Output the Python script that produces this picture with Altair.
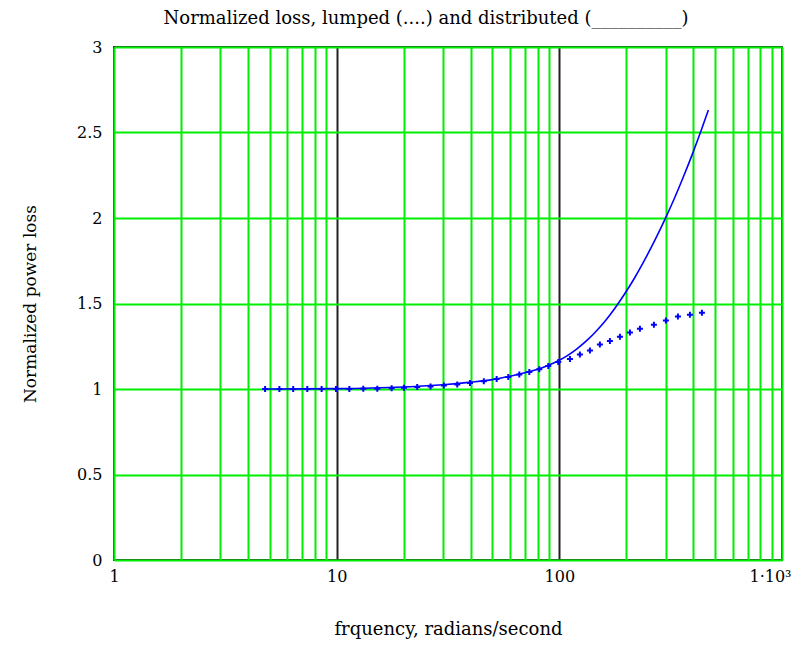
import altair as alt
import pandas as pd

# Lumped model (plotted as "+" markers)
lumped_freq = [4.77, 5.53, 6.38, 7.38, 8.56, 9.93, 11.4, 13.17, 15.22, 17.66, 20.05, 23.0,
               26.4, 30.3, 34.8, 39.7, 45.8, 52.3, 59.0, 66.1, 73.3, 81.3, 89.2, 98.9,
               111.6, 123.7, 137.2, 152.1, 168.7, 187.1, 207.5, 230.1, 265.9, 301.0,
               340.9, 385.9, 436.9]
lumped_loss = [1.0, 1.0, 1.0, 1.0, 1.0, 1.0, 1.0, 1.001, 1.002, 1.004, 1.008, 1.012,
               1.015, 1.02, 1.027, 1.035, 1.045, 1.058, 1.07, 1.085, 1.1, 1.115, 1.135, 1.158,
               1.176, 1.202, 1.225, 1.26, 1.281, 1.306, 1.33, 1.353, 1.376, 1.40,
               1.424, 1.434, 1.446]

# Distributed model (solid line)
dist_freq = [4.77, 10, 20, 30, 40, 50, 60, 70, 80, 90, 100, 110, 120, 133, 147, 162,
             178, 196, 216, 238, 269, 298, 327, 360, 397, 435, 467]
dist_loss = [1.0, 1.002, 1.012, 1.025, 1.04, 1.055, 1.075, 1.095, 1.115, 1.14, 1.168,
             1.200, 1.235, 1.284, 1.341, 1.404, 1.474, 1.554, 1.642, 1.739, 1.872, 1.992,
             2.108, 2.238, 2.378, 2.517, 2.631]

x_ticks = [1, 2, 3, 4, 5, 6, 7, 8, 9, 10, 20, 30, 40, 50, 60, 70, 80, 90,
           100, 200, 300, 400, 500, 600, 700, 800, 900, 1000]
y_ticks = [0, 0.5, 1, 1.5, 2, 2.5, 3]

lumped = pd.DataFrame({"freq": lumped_freq, "loss": lumped_loss})
dist = pd.DataFrame({"freq": dist_freq, "loss": dist_loss})

FONT = "DejaVu Serif"

x_enc = alt.X(
    "freq:Q",
    scale=alt.Scale(type="log", domain=[1, 1000], nice=False),
    axis=alt.Axis(
        values=x_ticks,
        title="frquency, radians/second",
        labelExpr="datum.value == 1 ? '1' : datum.value == 10 ? '10' : datum.value == 100 ? '100' : datum.value == 1000 ? '1·10³' : ''",
        labelOverlap=False,
        labelFlush=False,
        labelAlign={"condition": {"test": "datum.value == 1000", "value": "right"}, "value": "center"},
        labelOffset={"condition": {"test": "datum.value == 1000", "value": 9}, "value": 0},
        ticks=False,
        domain=False,
        grid=True,
        gridColor={"condition": {"test": "datum.value == 10 || datum.value == 100", "value": "#222222"},
                   "value": "#00ee00"},
        gridWidth=2,
        gridOpacity=1,
        labelPadding=8,
        titlePadding=36,
        titleFontSize=18,
    ),
)
y_enc = alt.Y(
    "loss:Q",
    scale=alt.Scale(domain=[0, 3], nice=False, zero=True),
    axis=alt.Axis(
        values=y_ticks,
        format="~g",
        title="Normalized power loss",
        ticks=False,
        domain=False,
        grid=True,
        gridColor="#00ee00",
        gridWidth=2,
        gridOpacity=1,
        labelPadding=12,
        titlePadding=37,
        labelFlush=False,
        titleFontSize=17,
    ),
)

line = alt.Chart(dist).mark_line(color="#0000ff", strokeWidth=1.6, interpolate="monotone").encode(x=x_enc, y=y_enc)
points = alt.Chart(lumped).mark_point(
    shape="M-1,0L1,0M0,-1L0,1", filled=False, size=36, strokeWidth=2, color="#0000ff", opacity=1
).encode(x="freq:Q", y="loss:Q")

chart = (
    alt.layer(line, points)
    .properties(
        width=668,
        height=513,
        title=alt.TitleParams(
            "Normalized loss, lumped (....) and distributed (__________)",
            font=FONT, fontSize=18, fontWeight="normal", color="black",
            anchor="middle", dx=-22, offset=11,
        ),
        autosize=alt.AutoSizeParams(type="none"),
        padding={"left": 106, "top": 39, "right": 17, "bottom": 82},
    )
    .configure(background="white")
    .configure_view(stroke="#333333", strokeWidth=2)
    .configure_axis(
        labelFont=FONT, labelFontSize=16, labelColor="black",
        titleFont=FONT, titleFontWeight="normal", titleColor="black",
    )
)

chart.save("out.html", embed_options={"renderer": "svg", "actions": False})
